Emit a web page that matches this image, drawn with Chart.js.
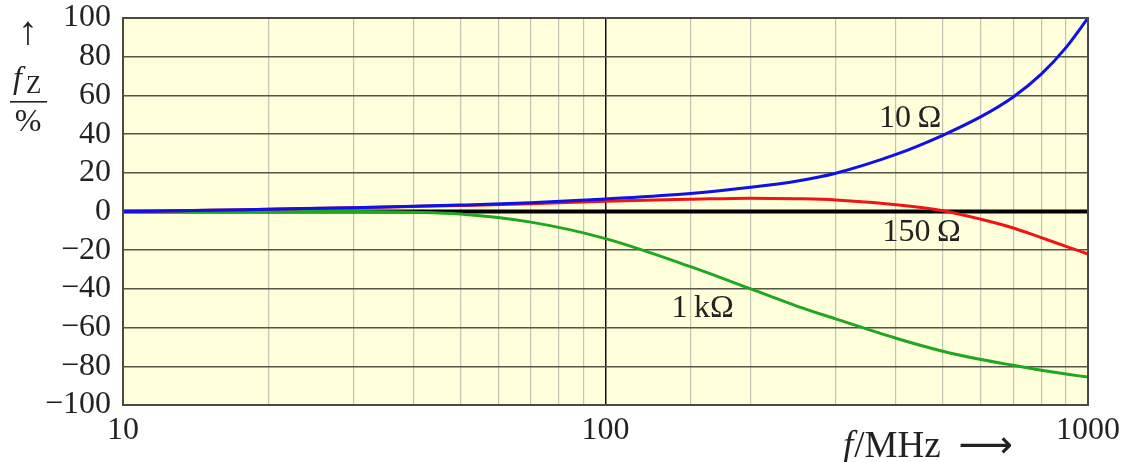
<!DOCTYPE html>
<html>
<head>
<meta charset="utf-8">
<script src="https://cdn.jsdelivr.net/npm/chart.js@4"></script>
<style>
  html, body { margin: 0; padding: 0; background: #fff; }
</style>
</head>
<body>
<canvas id="chart" width="1138" height="462"></canvas>
<script>
// frequency in MHz
const freqs = [10, 15, 20, 30, 40, 50, 70, 100, 150, 200, 250, 300, 400, 500, 600, 700, 800, 900, 1000];
// f_Z in % for the three load resistances
const fz10 = [0, 0.6, 1.2, 2, 2.7, 3.3, 4.5, 6.5, 9.3, 12.5, 15.8, 19.8, 29.5, 39.4, 49, 59.2, 71, 84.7, 100];
const fz150 = [0, 0.6, 1.2, 2, 2.6, 3.1, 4, 5.3, 6.3, 6.9, 6.6, 6, 3.5, 0.4, -4, -8.5, -13.5, -18, -22];
const fz1k = [0, 0, 0, 0, -0.4, -1.3, -5.5, -14, -28.5, -40, -49, -55.5, -65.5, -72.2, -76.5, -79.5, -82, -84, -85.6];
const zeroLine = [0, 0];
const zeroFreqs = [10, 1000];
const xLabels = [10, 100, 1000];
const yTicks = [100, 80, 60, 40, 20, 0, -20, -40, -60, -80, -100];

// curve labels anchored at data coordinates
const curveLabels = [
  { text: '10\u2009\u03A9', f: 428, v: 48 },
  { text: '150\u2009\u03A9', f: 452, v: -11 },
  { text: '1\u2009k\u03A9', f: 159, v: -50 }
];

const SERIF = '"Liberation Serif", "DejaVu Serif", serif';

const pts = (xs, ys) => xs.map((x, i) => ({ x: x, y: ys[i] }));

const plotBg = {
  id: 'plotBg',
  beforeDraw(chart) {
    const { ctx, chartArea: a } = chart;
    ctx.save();
    ctx.fillStyle = 'rgb(255,255,219)';
    ctx.fillRect(a.left, a.top, a.right - a.left, a.bottom - a.top);
    ctx.restore();
  },
  afterDraw(chart) {
    const { ctx, chartArea: a, scales } = chart;
    ctx.save();
    // frame
    ctx.strokeStyle = '#4a4a42';
    ctx.lineWidth = 2;
    ctx.strokeRect(a.left, a.top, a.right - a.left, a.bottom - a.top);

    ctx.fillStyle = '#222';
    ctx.textAlign = 'center';
    ctx.textBaseline = 'middle';
    ctx.font = '32px ' + SERIF;
    curveLabels.forEach(l => {
      ctx.fillText(l.text, scales.x.getPixelForValue(l.f), scales.y.getPixelForValue(l.v));
    });

    // y axis title: arrow, f_Z over %
    ctx.font = '40px ' + SERIF;
    ctx.fillText('\u2191', 28, 33);
    ctx.font = 'italic 32px ' + SERIF;
    ctx.textAlign = 'left';
    ctx.fillText('f', 13, 80);
    ctx.font = '25px ' + SERIF;
    ctx.fillText('Z', 26, 86);
    ctx.fillRect(10, 101, 37, 1.6);
    ctx.font = '32px ' + SERIF;
    ctx.textAlign = 'center';
    ctx.fillText('%', 28, 123);

    // x axis title
    ctx.textAlign = 'left';
    ctx.font = 'italic 37px ' + SERIF;
    ctx.fillText('f', 843, 447);
    const fw = ctx.measureText('f').width;
    ctx.font = '37px ' + SERIF;
    ctx.fillText('/MHz', 843 + fw + 1, 447);
    ctx.font = '38px "DejaVu Sans", ' + SERIF;
    ctx.textAlign = 'right';
    ctx.fillText('\u27F6', 1013, 447);
    ctx.restore();
  }
};

new Chart(document.getElementById('chart'), {
  type: 'line',
  data: {
    datasets: [
      { data: pts(freqs, fz10), borderColor: '#1010e8', borderWidth: 3, order: 1 },
      { data: pts(freqs, fz150), borderColor: '#ee1515', borderWidth: 3, order: 2 },
      { data: pts(freqs, fz1k), borderColor: '#1fa81f', borderWidth: 3, order: 3 },
      { data: pts(zeroFreqs, zeroLine), borderColor: '#000', borderWidth: 4, tension: 0, order: 4 }
    ]
  },
  options: {
    responsive: false,
    animation: false,
    devicePixelRatio: 1,
    layout: { padding: { top: 18, right: 50, left: 0, bottom: 0 } },
    elements: {
      point: { radius: 0 },
      line: { tension: 0.4, cubicInterpolationMode: 'monotone', fill: false }
    },
    plugins: { legend: { display: false }, tooltip: { enabled: false } },
    scales: {
      x: {
        type: 'logarithmic',
        min: 10,
        max: 1000,
        border: { display: false },
        grid: {
          drawTicks: false,
          color: c => (c.tick && c.tick.value === 100 ? '#111' : '#c4c4b4'),
          lineWidth: c => (c.tick && c.tick.value === 100 ? 1.5 : 1.2)
        },
        ticks: {
          autoSkip: false,
          maxRotation: 0,
          padding: 6,
          color: '#222',
          font: { family: SERIF, size: 32 },
          callback: v => (xLabels.includes(v) ? String(v) : '')
        },
        afterFit: s => { s.height = 57; s.paddingLeft = 0; s.paddingRight = 0; }
      },
      y: {
        min: -100,
        max: 100,
        border: { display: false },
        afterBuildTicks: s => { s.ticks = yTicks.map(v => ({ value: v })); },
        grid: { drawTicks: false, color: '#55554a', lineWidth: 1.5 },
        ticks: {
          autoSkip: false,
          padding: 12,
          color: '#222',
          font: { family: SERIF, size: 32 },
          callback: v => (v < 0 ? '\u2212' + Math.abs(v) : String(v))
        },
        afterFit: s => { s.width = 123; s.paddingTop = 0; s.paddingBottom = 0; }
      }
    }
  },
  plugins: [plotBg]
});
</script>
</body>
</html>
